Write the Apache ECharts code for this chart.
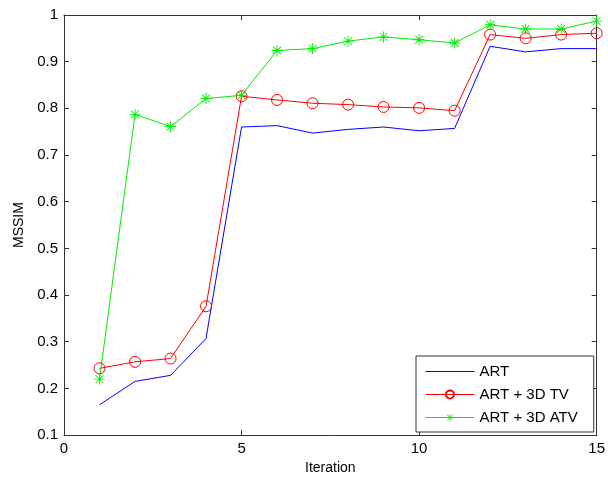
<!DOCTYPE html>
<html>
<head>
<meta charset="utf-8">
<script src="https://cdn.jsdelivr.net/npm/echarts@6/dist/echarts.min.js"></script>
<style>
html,body{margin:0;padding:0;background:#fff;}
#main{width:608px;height:480px;}
</style>
</head>
<body>
<div id="main"></div>
<script>
// 数据
var iterations=[1,2,3,4,5,6,7,8,9,10,11,12,13,14,15];
var artVals=[0.165,0.215,0.228,0.307,0.760,0.763,0.747,0.755,0.760,0.752,0.757,0.933,0.921,0.928,0.928];
var tvVals=[0.243,0.257,0.264,0.376,0.826,0.818,0.811,0.808,0.803,0.801,0.795,0.958,0.950,0.958,0.961];
var atvVals=[0.220,0.787,0.761,0.821,0.828,0.924,0.928,0.944,0.953,0.947,0.940,0.979,0.970,0.970,0.987];
var seriesNames=['ART','ART + 3D TV','ART + 3D ATV'];

function pairs(arr){
	var out=[];
	for(var i=0;i<arr.length;i++){
		out.push([iterations[i],arr[i]]);
	}
	return out;
}

//星号 marker
var starPath='path://M-10 -0.8L10 -0.8L10 0.8L-10 0.8Z M-0.8 -10L0.8 -10L0.8 10L-0.8 10Z '+
	'M-6.5 -7.6L7.6 6.5L6.5 7.6L-7.6 -6.5Z M6.5 -7.6L7.6 -6.5L-6.5 7.6L-7.6 6.5Z';

var font='Liberation Sans, Arial, sans-serif';
var axisCol='#333';

var myChart=echarts.init(document.getElementById('main'),null,{renderer:'canvas'});
var option={
	backgroundColor:'#fff',
	animation:false,
	grid:{left:64,right:7,top:15,bottom:42},
	legend:{
		orient:'vertical',
		left:416,
		top:356,
		padding:[8,16,7,9],
		itemWidth:49,
		itemHeight:10,
		itemGap:8,
		lineStyle:{width:1},
		backgroundColor:'#fff',
		borderColor:axisCol,
		borderWidth:1,
		borderRadius:0,
		textStyle:{fontFamily:font,fontSize:15,color:'#000'},
		data:seriesNames
	},
	xAxis:[{
		type:'value',min:0,max:15,interval:5,
		name:'Iteration',nameLocation:'middle',nameGap:24,
		nameTextStyle:{fontFamily:font,fontSize:14,color:'#000'},
		axisLine:{onZero:false,lineStyle:{color:axisCol,width:1}},
		axisTick:{inside:true,length:5,lineStyle:{color:axisCol}},
		axisLabel:{fontFamily:font,fontSize:15,color:'#000',margin:6},
		splitLine:{show:false}
	},{
		type:'value',min:0,max:15,interval:5,position:'top',
		axisLine:{onZero:false,lineStyle:{color:axisCol,width:1}},
		axisTick:{inside:true,length:5,lineStyle:{color:axisCol}},
		axisLabel:{show:false},
		splitLine:{show:false}
	}],
	yAxis:[{
		type:'value',min:0.1,max:1,interval:0.1,
		name:'MSSIM',nameLocation:'middle',nameGap:35,
		nameTextStyle:{fontFamily:font,fontSize:14,color:'#000'},
		axisLine:{show:true,onZero:false,lineStyle:{color:axisCol,width:1}},
		axisTick:{show:true,inside:true,length:5,lineStyle:{color:axisCol}},
		axisLabel:{fontFamily:font,fontSize:15,color:'#000',margin:6,
			formatter:function(v){return (Math.round(v*10)/10).toString();}},
		splitLine:{show:false}
	},{
		type:'value',min:0.1,max:1,interval:0.1,position:'right',
		axisLine:{show:true,onZero:false,lineStyle:{color:axisCol,width:1}},
		axisTick:{show:true,inside:true,length:5,lineStyle:{color:axisCol}},
		axisLabel:{show:false},
		splitLine:{show:false}
	}],
	series:[{
		name:seriesNames[0],type:'line',
		data:pairs(artVals),
		symbol:'circle',showSymbol:false,
		lineStyle:{color:'#0000ff',width:1},
		itemStyle:{color:'rgba(0,0,255,0)',borderWidth:0}
	},{
		name:seriesNames[1],type:'line',
		data:pairs(tvVals),
		symbol:'circle',symbolSize:11,
		lineStyle:{color:'#ff0000',width:1},
		itemStyle:{color:'rgba(255,255,255,0)',borderColor:'#ff0000',borderWidth:1}
	},{
		name:seriesNames[2],type:'line',
		data:pairs(atvVals),
		symbol:starPath,symbolSize:11,
		lineStyle:{color:'#00ee00',width:1},
		itemStyle:{color:'#00ee00'}
	}]
};
myChart.setOption(option);
</script>
</body>
</html>
